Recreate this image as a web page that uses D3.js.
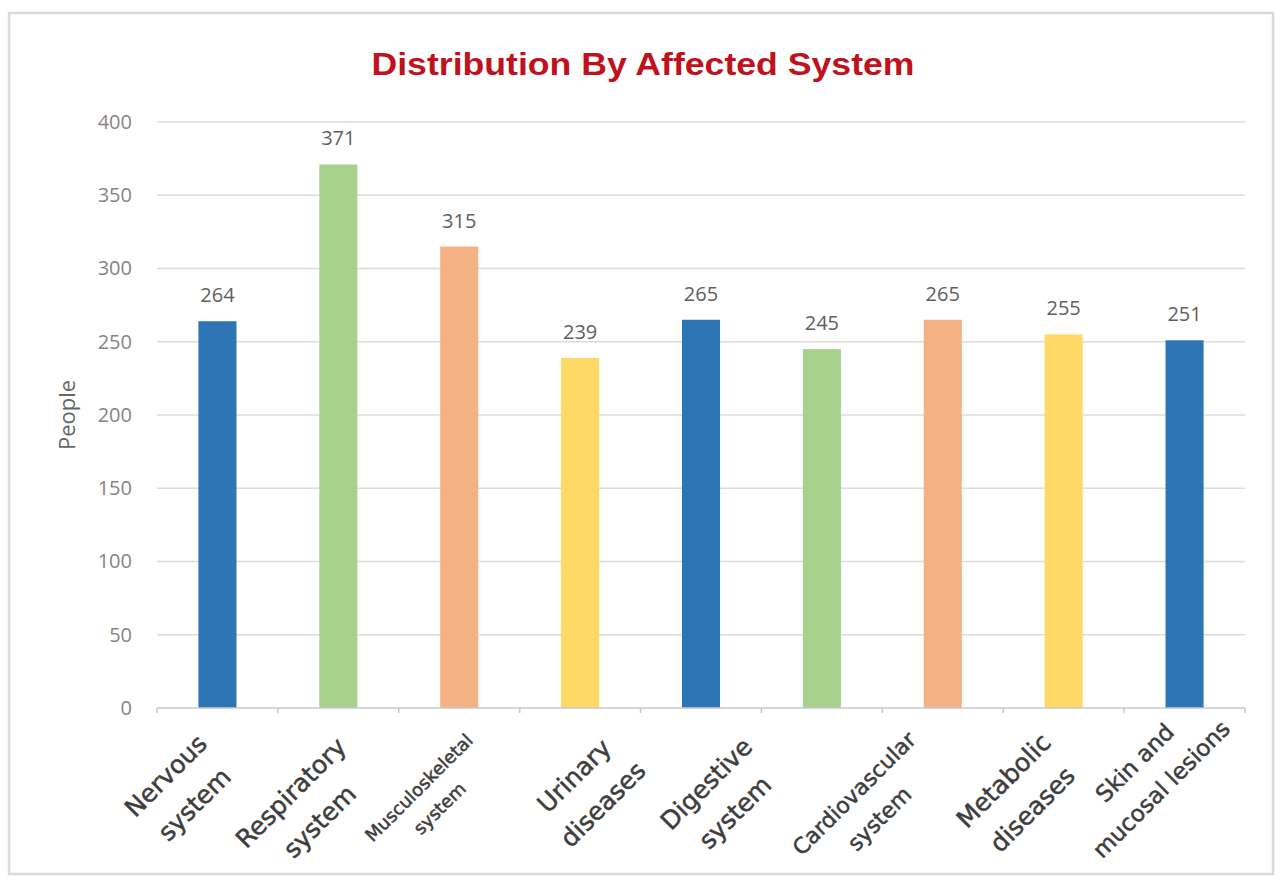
<!DOCTYPE html>
<html>
<head>
<meta charset="utf-8">
<script src="https://cdn.jsdelivr.net/npm/d3@7"></script>
<style>
  body { margin: 0; background: #fff; }
  svg { display: block; }
</style>
</head>
<body>
<svg id="chart" width="1276" height="876"></svg>
<script>
// data
const systems = ["Nervous system", "Respiratory system", "Musculoskeletal system", "Urinary diseases",
  "Digestive system", "Cardiovascular system", "Other system", "Metabolic diseases", "Skin and mucosal lesions"];
const people = [264, 371, 315, 239, 265, 245, 265, 255, 251];
const yTicks = [0, 50, 100, 150, 200, 250, 300, 350, 400];
// the picture only carries eight category captions under the nine bars
const captions = [
  ["Nervous", "system"],
  ["Respiratory", "system"],
  ["Musculoskeletal", "system"],
  ["Urinary", "diseases"],
  ["Digestive", "system"],
  ["Cardiovascular", "system"],
  ["Metabolic", "diseases"],
  ["Skin and", "mucosal lesions"]
];
const palette = ["#2e75b6", "#a9d18e", "#f4b183", "#ffd966"];

const svg = d3.select("#chart");
const plotL = 157, plotR = 1245, plotT = 122, plotB = 708;

// frame
svg.append("rect")
  .attr("x", 9).attr("y", 13).attr("width", 1264).attr("height", 861)
  .attr("fill", "#fff").attr("stroke", "#dadada").attr("stroke-width", 2.5);

const x = d3.scaleBand().domain(systems).range([plotL, plotR]).padding(0);
const y = d3.scaleLinear().domain([0, 400]).range([plotB, plotT]);

// title
svg.append("text")
  .attr("x", 643).attr("y", 75)
  .attr("text-anchor", "middle")
  .attr("font-family", "Liberation Sans, Arial, sans-serif")
  .attr("font-weight", "bold")
  .attr("font-size", 31)
  .attr("textLength", 543)
  .attr("lengthAdjust", "spacingAndGlyphs")
  .attr("fill", "#c0121c")
  .text("Distribution By Affected System");

// grid
svg.append("g")
  .selectAll("line")
  .data(yTicks.filter(d => d > 0))
  .join("line")
  .attr("x1", plotL).attr("x2", plotR)
  .attr("y1", d => y(d)).attr("y2", d => y(d))
  .attr("stroke", "#dcdcdc").attr("stroke-width", 1.5);

// y axis labels
const yAxis = svg.append("g")
  .attr("transform", `translate(${plotL},0)`)
  .call(d3.axisLeft(y).tickValues(yTicks).tickSize(0).tickPadding(25));
yAxis.select(".domain").remove();
yAxis.selectAll("text")
  .attr("font-family", "Open Sans, sans-serif")
  .attr("font-size", 20)
  .attr("fill", "#858585");

svg.append("text")
  .attr("transform", "translate(67,415) rotate(-90)")
  .attr("dy", "0.35em")
  .attr("text-anchor", "middle")
  .attr("font-family", "Open Sans, sans-serif")
  .attr("font-size", 22)
  .attr("fill", "#666")
  .text("People");

// bars
const barW = x.bandwidth() * 0.315;
svg.append("g")
  .selectAll("rect")
  .data(systems)
  .join("rect")
  .attr("x", d => x(d) + (x.bandwidth() - barW) / 2)
  .attr("y", (d, i) => y(people[i]))
  .attr("width", barW)
  .attr("height", (d, i) => y(0) - y(people[i]))
  .attr("fill", (d, i) => palette[i % 4]);

// value labels
svg.append("g")
  .selectAll("text")
  .data(systems)
  .join("text")
  .attr("x", d => x(d) + x.bandwidth() / 2)
  .attr("y", (d, i) => y(people[i]) - 19)
  .attr("text-anchor", "middle")
  .attr("font-family", "Open Sans, sans-serif")
  .attr("font-size", 20)
  .attr("fill", "#606060")
  .text((d, i) => people[i]);

// x axis line and ticks
const xAxis = svg.append("g")
  .attr("transform", `translate(0,${plotB})`);
xAxis.append("line")
  .attr("x1", plotL).attr("x2", plotR)
  .attr("stroke", "#c8c8c8").attr("stroke-width", 1.5);
xAxis.selectAll(".tk")
  .data(d3.range(systems.length + 1))
  .join("line")
  .attr("class", "tk")
  .attr("x1", i => plotL + i * x.step()).attr("x2", i => plotL + i * x.step())
  .attr("y1", 0).attr("y2", 5)
  .attr("stroke", "#c8c8c8").attr("stroke-width", 1.5);

// captions, laid over the axis like the original image
const cap = d3.scalePoint().domain(d3.range(captions.length)).range([180, 1147]);
const nudge = [[0, -7], [-13, 10], [-27, 1], [-6, -7], [-12, 1], [-4, 9], [9, -2], [1, -21]];
const capSize = [25, 25, 18, 25, 25, 22, 25, 23];

const capG = svg.append("g")
  .selectAll("g")
  .data(captions)
  .join("g")
  .attr("transform", (d, i) => `translate(${cap(i) + nudge[i][0]},${797 + nudge[i][1]}) rotate(-45)`);

capG.each(function (lines, i) {
  const lh = capSize[i] * 1.62;
  d3.select(this).selectAll("text")
    .data(lines)
    .join("text")
    .attr("x", 0)
    .attr("y", (t, j) => (j - 0.5) * lh)
    .attr("dy", "0.35em")
    .attr("text-anchor", "middle")
    .attr("font-family", "DejaVu Sans, sans-serif")
    .attr("font-size", capSize[i])
    .attr("fill", "#3d3d3d")
    .attr("stroke", "#3d3d3d")
    .attr("stroke-width", 0.5)
    .text(t => t);
});
</script>
</body>
</html>
